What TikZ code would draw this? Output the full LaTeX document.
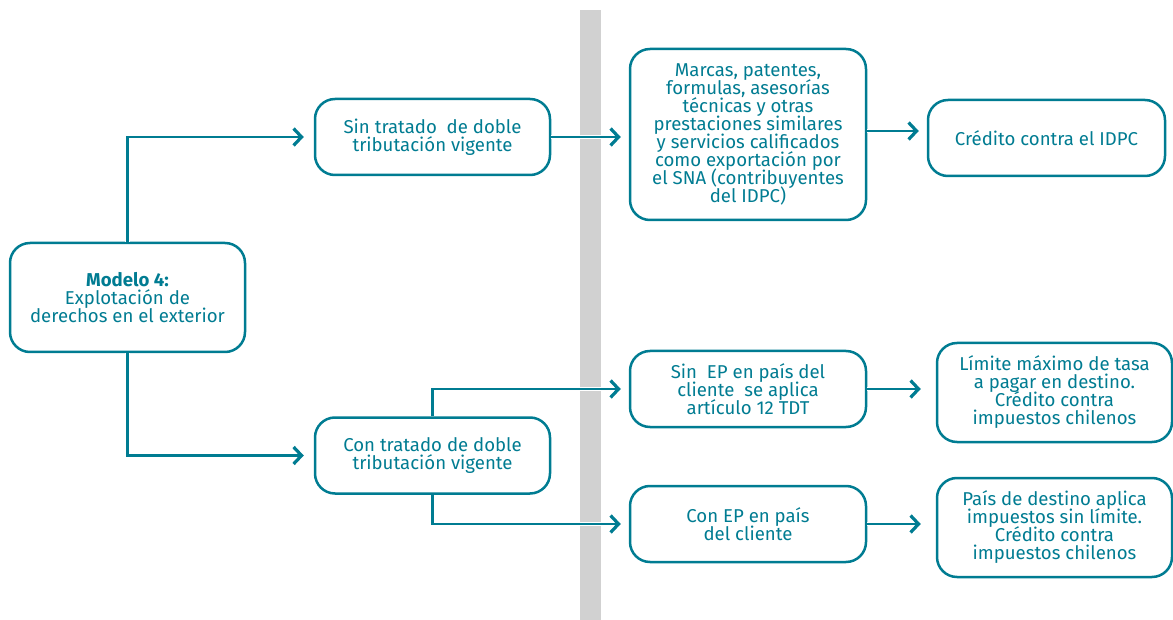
\documentclass[tikz,border=0pt]{standalone}
\usepackage{fontspec}
\setmainfont{Fira Sans}
\usetikzlibrary{arrows.meta}
\definecolor{teal1}{RGB}{0,124,146}
\definecolor{bar}{RGB}{209,209,209}
\newcommand\myboxfont{\fontsize{18.6}{18}\selectfont\setlength{\lineskiplimit}{-50pt}}
\begin{document}
\begin{tikzpicture}[x=1pt,y=-1pt,
  box/.style={draw=teal1,line width=2.5pt,rounded corners=20pt,fill=white,text=teal1,align=center,
    font=\myboxfont,inner sep=0pt},
  conn/.style={draw=teal1,line width=2.6pt,-{Straight Barb[length=8pt,width=17pt,line width=3.2pt]},
    preaction={draw=white,line width=4.5pt,-}}]
\useasboundingbox (0,0) rectangle (1173,620);
\fill[bar] (580,10) rectangle (601,620);
% boxes (corners given in px)
\node[box,minimum width=235pt,minimum height=109pt] (m4) at (127.5,297.5) {\textbf{Modelo 4:}\\Explotación de\\derechos en el exterior};
\node[box,minimum width=235pt,minimum height=76pt] (st) at (432.5,137) {Sin tratado\ \ de doble\\tributación vigente};
\node[box,minimum width=235pt,minimum height=76pt] (ct) at (432.5,455.5) {Con tratado de doble\\tributación vigente};
\node[box,minimum width=236pt,minimum height=171pt] (mp) at (748,134.5) {Marcas, patentes,\\formulas, asesorías\\técnicas y otras\\prestaciones similares\\y servicios calificados\\como exportación por\\el SNA (contribuyentes\\del IDPC)};
\node[box,minimum width=237pt,minimum height=76pt] (cr) at (1046.5,138) {Crédito contra el IDPC};
\node[box,minimum width=236pt,minimum height=76pt] (se) at (748,389) {Sin\ \ EP en país del\\cliente\ \ se aplica\\artículo 12 TDT};
\node[box,minimum width=236pt,minimum height=76pt] (ce) at (748,524) {Con EP en país\\del cliente};
\node[box,minimum width=235pt,minimum height=99pt] (lm) at (1054.5,392.5) {Límite máximo de tasa\\a pagar en destino.\\Crédito contra\\impuestos chilenos};
\node[box,minimum width=235pt,minimum height=99pt] (pd) at (1054.5,527.5) {País de destino aplica\\impuestos sin límite.\\Crédito contra\\impuestos chilenos};
% connectors
\draw[conn] (m4.north) |- ([xshift=-10pt]st.west);
\draw[conn] (m4.south) |- ([xshift=-10pt]ct.west);
\draw[conn] (st.east) -- ([xshift=-8pt]st.east -| mp.west);
\draw[conn] ([yshift=3.5pt]mp.east) -- ([xshift=-8pt,yshift=3.5pt]mp.east -| cr.west);
\draw[conn] (ct.north) |- ([xshift=-8pt]se.west);
\draw[conn] (ct.south) |- ([xshift=-8pt]ce.west);
\draw[conn] (se.east) -- ([xshift=-15pt]se.east -| lm.west);
\draw[conn] (ce.east) -- ([xshift=-15pt]ce.east -| pd.west);
\end{tikzpicture}
\end{document}
